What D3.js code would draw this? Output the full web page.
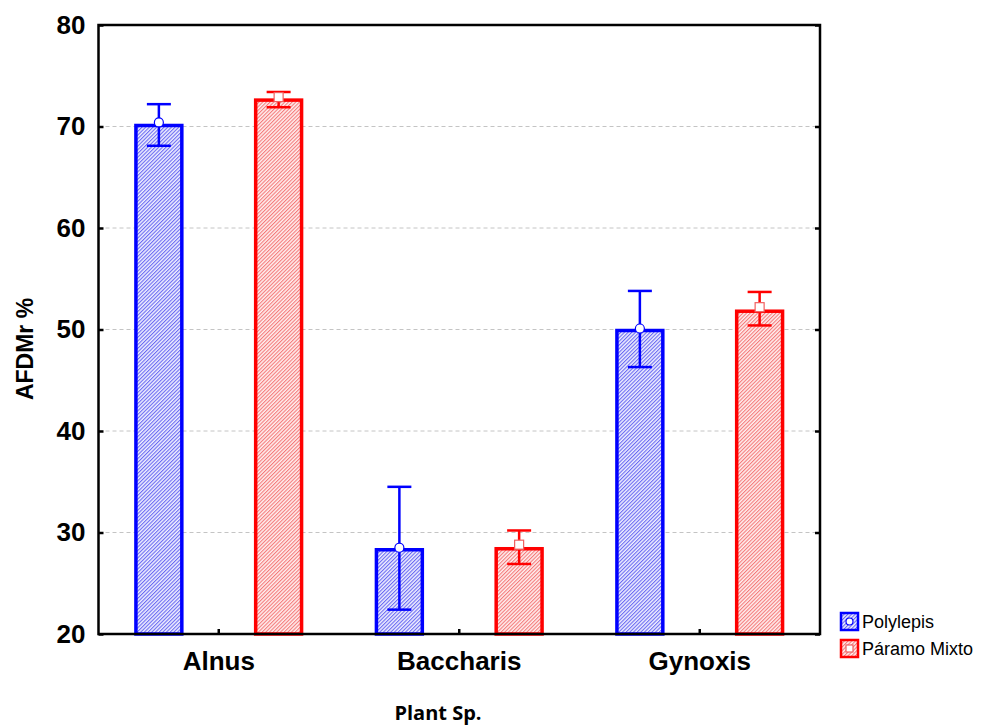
<!DOCTYPE html>
<html>
<head>
<meta charset="utf-8">
<script src="https://cdn.jsdelivr.net/npm/d3@7"></script>
<style>
  body { margin: 0; background: #fff; }
  svg { display: block; }
</style>
</head>
<body>
<svg id="chart" width="988" height="727"></svg>
<script>
// data
const categories = ["Alnus", "Baccharis", "Gynoxis"];
const seriesNames = ["Polylepis", "Páramo Mixto"];
const barValues = {
  "Polylepis": [70.1, 28.3, 49.9],
  "Páramo Mixto": [72.6, 28.4, 51.8]
};
const meanValues = {
  "Polylepis": [70.4, 28.5, 50.1],
  "Páramo Mixto": [72.9, 28.8, 52.2]
};
const errLow = {
  "Polylepis": [68.1, 22.4, 46.3],
  "Páramo Mixto": [71.9, 26.9, 50.4]
};
const errHigh = {
  "Polylepis": [72.2, 34.5, 53.8],
  "Páramo Mixto": [73.4, 30.2, 53.7]
};
const yTicks = [20, 30, 40, 50, 60, 70, 80];
const gridTicks = [30, 40, 50, 60, 70];

const colors = { "Polylepis": "#0000ff", "Páramo Mixto": "#ff0000" };
const hatchBg = { "Polylepis": "#f0f0ff", "Páramo Mixto": "#fff0f0" };
const hatchFg = { "Polylepis": "#6a6af2", "Páramo Mixto": "#f47a7a" };

const svg = d3.select("#chart");
const plotL = 98.5, plotR = 820, plotT = 25, plotB = 634;

const x = d3.scaleBand().domain(categories).range([plotL, plotR]);
const xs = d3.scaleBand().domain(seriesNames).range([0, x.bandwidth()])
  .paddingInner(0.6167).paddingOuter(0.3125);
const y = d3.scaleLinear().domain([20, 80]).range([plotB, plotT]);

// hatch patterns
const defs = svg.append("defs");
seriesNames.forEach((s, i) => {
  const p = defs.append("pattern")
    .attr("id", "hatch" + i)
    .attr("patternUnits", "userSpaceOnUse")
    .attr("width", 2.6).attr("height", 2.6)
    .attr("patternTransform", "rotate(45)");
  p.append("rect").attr("width", 2.6).attr("height", 2.6).attr("fill", hatchBg[s]);
  p.append("rect").attr("width", 1.1).attr("height", 2.6).attr("fill", hatchFg[s]);
});

// grid lines
svg.append("g").selectAll("line").data(gridTicks).join("line")
  .attr("x1", plotL).attr("x2", plotR)
  .attr("y1", d => y(d)).attr("y2", d => y(d))
  .attr("stroke", "#c4c4c4").attr("stroke-width", 1)
  .attr("stroke-dasharray", "4,3");

// bars
seriesNames.forEach((s, i) => {
  const g = svg.append("g");
  g.selectAll("rect").data(categories).join("rect")
    .attr("x", c => x(c) + xs(s))
    .attr("y", (c, j) => y(barValues[s][j]))
    .attr("width", xs.bandwidth())
    .attr("height", (c, j) => y(20) - y(barValues[s][j]))
    .attr("fill", "url(#hatch" + i + ")")
    .attr("stroke", colors[s]).attr("stroke-width", 3.5);
});

// error bars and mean markers
seriesNames.forEach((s, i) => {
  const g = svg.append("g").attr("stroke", colors[s]).attr("stroke-width", 2.5);
  const cx = c => x(c) + xs(s) + xs.bandwidth() / 2;
  g.selectAll(".v").data(categories).join("line").attr("class", "v")
    .attr("x1", cx).attr("x2", cx)
    .attr("y1", (c, j) => y(errLow[s][j])).attr("y2", (c, j) => y(errHigh[s][j]));
  [errLow, errHigh].forEach(arr => {
    g.append("g").selectAll("line").data(categories).join("line")
      .attr("x1", c => cx(c) - 12).attr("x2", c => cx(c) + 12)
      .attr("y1", (c, j) => y(arr[s][j])).attr("y2", (c, j) => y(arr[s][j]));
  });
  if (i === 0) {
    svg.append("g").selectAll("circle").data(categories).join("circle")
      .attr("cx", cx).attr("cy", (c, j) => y(meanValues[s][j]))
      .attr("r", 4.5).attr("fill", "#fff")
      .attr("stroke", colors[s]).attr("stroke-width", 1.2);
  } else {
    svg.append("g").selectAll("rect").data(categories).join("rect")
      .attr("x", c => cx(c) - 4.5).attr("y", (c, j) => y(meanValues[s][j]) - 4.5)
      .attr("width", 9).attr("height", 9).attr("fill", "#fff")
      .attr("stroke", "#f06060").attr("stroke-width", 1.2);
  }
});

// axes
const yAxis = svg.append("g").attr("transform", `translate(${plotL},0)`)
  .call(d3.axisLeft(y).tickValues(yTicks).tickSizeInner(-5).tickSizeOuter(0).tickPadding(13));
yAxis.select(".domain").remove();
yAxis.selectAll("line").attr("stroke", "#000").attr("stroke-width", 2.5);
yAxis.selectAll("text").attr("font-family", "Liberation Sans, Arial, sans-serif")
  .attr("font-weight", "bold").attr("font-size", 26).attr("fill", "#000");

const yAxisR = svg.append("g").attr("transform", `translate(${plotR},0)`)
  .call(d3.axisRight(y).tickValues(yTicks).tickSizeInner(-5).tickSizeOuter(0).tickFormat(""));
yAxisR.select(".domain").remove();
yAxisR.selectAll("line").attr("stroke", "#000").attr("stroke-width", 2.5);

const xAxis = svg.append("g").attr("transform", `translate(0,${plotB})`)
  .call(d3.axisBottom(x).tickSizeInner(-5).tickSizeOuter(0).tickPadding(18));
xAxis.select(".domain").remove();
xAxis.selectAll("line").attr("stroke", "#000").attr("stroke-width", 2.5);
xAxis.selectAll("text").attr("font-family", "Liberation Sans, Arial, sans-serif")
  .attr("font-weight", "bold").attr("font-size", 26).attr("fill", "#000");

// frame
svg.append("rect").attr("x", plotL).attr("y", plotT)
  .attr("width", plotR - plotL).attr("height", plotB - plotT)
  .attr("fill", "none").attr("stroke", "#000").attr("stroke-width", 2.5);

// axis titles
svg.append("text")
  .attr("transform", "translate(33,349) rotate(-90)")
  .attr("text-anchor", "middle")
  .attr("font-family", "Liberation Sans, Arial, sans-serif")
  .attr("font-weight", "bold").attr("font-size", 23)
  .text("AFDMr %");

svg.append("text")
  .attr("x", 438).attr("y", 720)
  .attr("text-anchor", "middle")
  .attr("font-family", "Open Sans, sans-serif")
  .attr("font-weight", "bold").attr("font-size", 20)
  .text("Plant Sp.");

// legend
const legend = svg.append("g").attr("transform", "translate(841,613)");
seriesNames.forEach((s, i) => {
  const g = legend.append("g").attr("transform", `translate(0,${i * 27})`);
  g.append("rect").attr("width", 17).attr("height", 17)
    .attr("fill", `url(#hatch${i})`).attr("stroke", colors[s]).attr("stroke-width", 2.5);
  if (i === 0) {
    g.append("circle").attr("cx", 8.5).attr("cy", 8.5).attr("r", 3.5)
      .attr("fill", "#fff").attr("stroke", colors[s]).attr("stroke-width", 1.2);
  } else {
    g.append("rect").attr("x", 5).attr("y", 5).attr("width", 7).attr("height", 7)
      .attr("fill", "#fff").attr("stroke", "#f06060").attr("stroke-width", 1.2);
  }
  g.append("text").attr("x", 21).attr("y", 8.5).attr("dy", "0.35em")
    .attr("font-family", "Liberation Sans, Arial, sans-serif")
    .attr("font-size", 18).attr("fill", "#000")
    .text(s);
});
</script>
</body>
</html>
